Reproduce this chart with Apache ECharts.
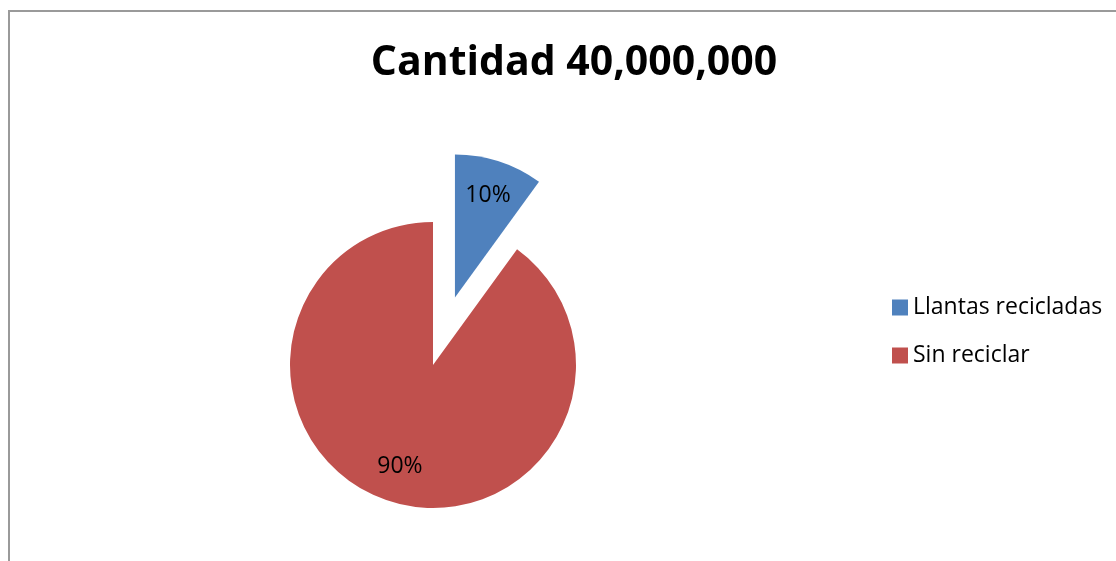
<!DOCTYPE html>
<html>
<head>
<meta charset="utf-8">
<script src="https://cdn.jsdelivr.net/npm/echarts@6/dist/echarts.min.js"></script>
<style>
  html, body { margin: 0; padding: 0; background: #fff; }
  #chart { width: 1116px; height: 561px; }
</style>
</head>
<body>
<div id="chart"></div>
<script>
// data
let titleText = 'Cantidad 40,000,000'
let categories = ['Llantas recicladas', 'Sin reciclar']
let values = [10, 90]
let colors = ['#4F81BD', '#C0504D']
let explodedIndex = 0

let pieData = categories.map((name, i) => ({
  name: name,
  value: values[i],
  selected: i === explodedIndex
}))

let chart = echarts.init(document.getElementById('chart'))

let option = {
  animation: false,
  color: colors,
  title: {
    text: titleText,
    left: 569,
    top: 38,
    textAlign: 'center',
    textStyle: {
      fontFamily: 'Open Sans',
      fontWeight: 'bold',
      fontSize: 41,
      color: '#000'
    }
  },
  legend: {
    orient: 'vertical',
    left: 887,
    top: 291,
    itemWidth: 16,
    itemHeight: 16,
    itemGap: 25,
    itemTextGap: 5,
    icon: 'rect',
    data: categories,
    selectedMode: false,
    textStyle: {
      fontFamily: 'Open Sans',
      fontSize: 23,
      lineHeight: 23,
      color: '#000'
    }
  },
  graphic: [{
    type: 'polyline',
    shape: { points: [[9, 561], [9, 11], [1116, 11]] },
    style: { stroke: '#9a9a9a', lineWidth: 2, fill: null },
    silent: true
  }],
  series: [
    {
      type: 'pie',
      center: [433, 365],
      radius: 143,
      startAngle: 90,
      clockwise: true,
      selectedMode: 'single',
      selectedOffset: 71,
      data: pieData,
      label: { show: false },
      labelLine: { show: false },
      emphasis: { disabled: true },
      silent: true
    },
    {
      // transparent copy that only carries the percent labels further out
      type: 'pie',
      center: [433, 365],
      radius: [65, 143],
      startAngle: 90,
      clockwise: true,
      selectedMode: 'single',
      selectedOffset: 71,
      data: pieData,
      itemStyle: { color: 'rgba(0,0,0,0)' },
      label: {
        show: true,
        position: 'inside',
        formatter: '{c}%',
        fontFamily: 'Open Sans',
        fontSize: 23,
        color: '#000'
      },
      labelLine: { show: false },
      emphasis: { disabled: true },
      silent: true
    }
  ]
}

chart.setOption(option)
</script>
</body>
</html>
